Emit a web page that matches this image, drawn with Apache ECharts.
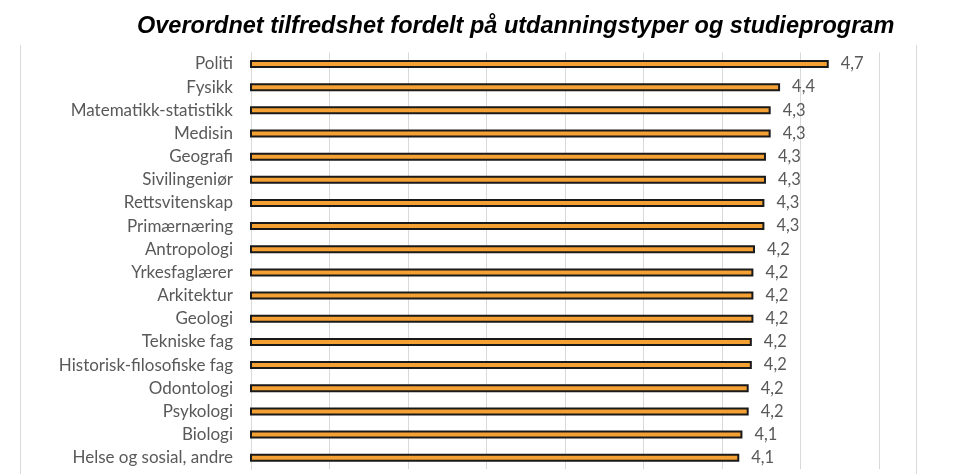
<!DOCTYPE html>
<html>
<head>
<meta charset="utf-8">
<script src="https://cdn.jsdelivr.net/npm/echarts@6/dist/echarts.min.js"></script>
<style>
html, body { margin: 0; padding: 0; background: #fff; }
#main { width: 960px; height: 474px; }
</style>
</head>
<body>
<div id="main"></div>
<script>
// studieprogram, ovenfra og ned
var programmer = ['Politi', 'Fysikk', 'Matematikk-statistikk', 'Medisin', 'Geografi',
    'Sivilingeniør', 'Rettsvitenskap', 'Primærnæring', 'Antropologi', 'Yrkesfaglærer',
    'Arkitektur', 'Geologi', 'Tekniske fag', 'Historisk-filosofiske fag', 'Odontologi',
    'Psykologi', 'Biologi', 'Helse og sosial, andre'];
// gjennomsnittlig tilfredshet (skala 1-5)
var tilfredshet = [4.68, 4.37, 4.31, 4.31, 4.28, 4.28, 4.27, 4.27, 4.21, 4.20,
    4.20, 4.20, 4.19, 4.19, 4.17, 4.17, 4.13, 4.11];
var aksMin = 1, aksMax = 5, aksSteg = 0.5;

var myChart = echarts.init(document.getElementById('main'));

var option = {
    animation: false,
    title: {
        text: 'Overordnet tilfredshet fordelt på utdanningstyper og studieprogram',
        left: 132,
        top: 10,
        textStyle: {
            fontFamily: 'Liberation Sans',
            fontSize: 23.5,
            fontWeight: 'bold',
            fontStyle: 'italic',
            color: '#000'
        }
    },
    grid: { left: 251, right: 81, top: 52.4, bottom: 4.7 },
    xAxis: {
        type: 'value',
        min: aksMin, max: aksMax, interval: aksSteg,
        axisLabel: { show: false },
        axisLine: { show: false },
        axisTick: { show: false },
        splitLine: { lineStyle: { color: '#d9d9d9', width: 1 } }
    },
    yAxis: {
        type: 'category',
        inverse: true,
        data: programmer,
        axisTick: { show: false },
        axisLine: { lineStyle: { color: '#d9d9d9', width: 1 } },
        axisLabel: {
            margin: 18,
            color: '#595959',
            fontFamily: 'Lato',
            fontSize: 17
        }
    },
    series: [{
        name: 'Tilfredshet',
        type: 'bar',
        data: tilfredshet,
        barWidth: 8,
        itemStyle: { color: '#F5A033', borderColor: '#1a1a1a', borderWidth: 2 },
        label: {
            show: true,
            position: 'right',
            distance: 12,
            color: '#595959',
            fontFamily: 'Lato',
            fontSize: 16.5,
            formatter: function (p) { return p.value.toFixed(1).replace('.', ','); }
        }
    }],
    graphic: [
        { type: 'line', shape: { x1: 20.5, y1: 45, x2: 20.5, y2: 474 }, style: { stroke: '#d9d9d9', lineWidth: 1 } },
        { type: 'line', shape: { x1: 916.5, y1: 45, x2: 916.5, y2: 474 }, style: { stroke: '#d9d9d9', lineWidth: 1 } }
    ]
};

myChart.setOption(option);
</script>
</body>
</html>
